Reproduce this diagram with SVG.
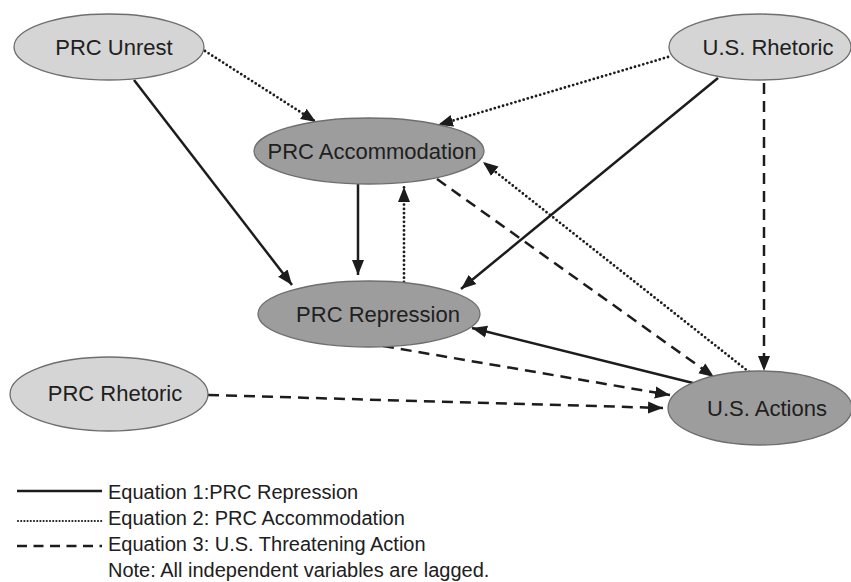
<svg xmlns="http://www.w3.org/2000/svg" width="851" height="582" viewBox="0 0 851 582">
<style>
.bg{fill:#ffffff}
.light{fill:#d5d5d5;stroke:#6e6e6e;stroke-width:1.3}
.dark{fill:#9d9d9d;stroke:#6e6e6e;stroke-width:1.3}
.lbl{font-family:"Liberation Sans",Arial,sans-serif;font-size:22px;fill:#202020;text-anchor:middle}
.leg{font-family:"Liberation Sans",Arial,sans-serif;font-size:20px;fill:#202020}
.c{fill:none;stroke:#1c1c1c;stroke-width:2.5}
.solid{}
.dot{stroke-dasharray:0 4.3;stroke-linecap:round;stroke-width:2.8}
.dash{stroke-dasharray:11 7}
.arr{marker-end:url(#ah)}
</style>
<defs>
<marker id="ah" markerUnits="userSpaceOnUse" markerWidth="16" markerHeight="14" viewBox="0 0 16 14" refX="15" refY="7" orient="auto">
<path d="M0,1 L15,7 L0,13 Z" fill="#1c1c1c"/>
</marker>
</defs>
<rect class="bg" x="0" y="0" width="851" height="582"/>
<g id="connectors">
<path class="c dot arr" d="M205,51 L316,122"/>
<path class="c dot arr" d="M668,57 L438,125"/>
<path class="c solid arr" d="M134,80 L292,285"/>
<path class="c solid arr" d="M358,184 L358,275"/>
<path class="c dot arr" d="M404,282 L404,187"/>
<path class="c solid arr" d="M718,78 L461,289"/>
<path class="c dash arr" d="M437,179 L714,377"/>
<path class="c dot arr" d="M749,372 L483,162"/>
<path class="c dash arr" d="M764,83 L764,371"/>
<path class="c solid arr" d="M693,383 L472,328"/>
<path class="c dash arr" d="M383,346 L670,395"/>
<path class="c dash arr" d="M208,395 L663,408"/>
</g>
<g id="prc-unrest">
<ellipse class="light" cx="109" cy="47" rx="95" ry="33"/>
<text class="lbl" x="114" y="55">PRC Unrest</text>
</g>
<g id="us-rhetoric">
<ellipse class="light" cx="760" cy="47" rx="91" ry="33"/>
<text class="lbl" x="768" y="55">U.S. Rhetoric</text>
</g>
<g id="prc-accommodation">
<ellipse class="dark" cx="369" cy="151" rx="115" ry="33"/>
<text class="lbl" x="372" y="159">PRC Accommodation</text>
</g>
<g id="prc-repression">
<ellipse class="dark" cx="369" cy="314" rx="111" ry="33"/>
<text class="lbl" x="378" y="322">PRC Repression</text>
</g>
<g id="prc-rhetoric">
<ellipse class="light" cx="109" cy="394" rx="99" ry="37"/>
<text class="lbl" x="115" y="401">PRC Rhetoric</text>
</g>
<g id="us-actions">
<ellipse class="dark" cx="760" cy="408" rx="92" ry="37"/>
<text class="lbl" x="767" y="416">U.S. Actions</text>
</g>
<g id="legend">
<path class="c solid" d="M17,491 H102"/>
<path class="c" d="M18,521 H102" style="stroke-width:2.2;stroke-linecap:round;stroke-dasharray:0 3.2"/>
<path class="c" d="M17,546 H102" style="stroke-dasharray:10 6.5"/>
<text class="leg" x="108" y="499">Equation 1:PRC Repression</text>
<text class="leg" x="108" y="525">Equation 2: PRC Accommodation</text>
<text class="leg" x="108" y="551">Equation 3: U.S. Threatening Action</text>
<text class="leg" x="108" y="577">Note: All independent variables are lagged.</text>
</g>
</svg>
